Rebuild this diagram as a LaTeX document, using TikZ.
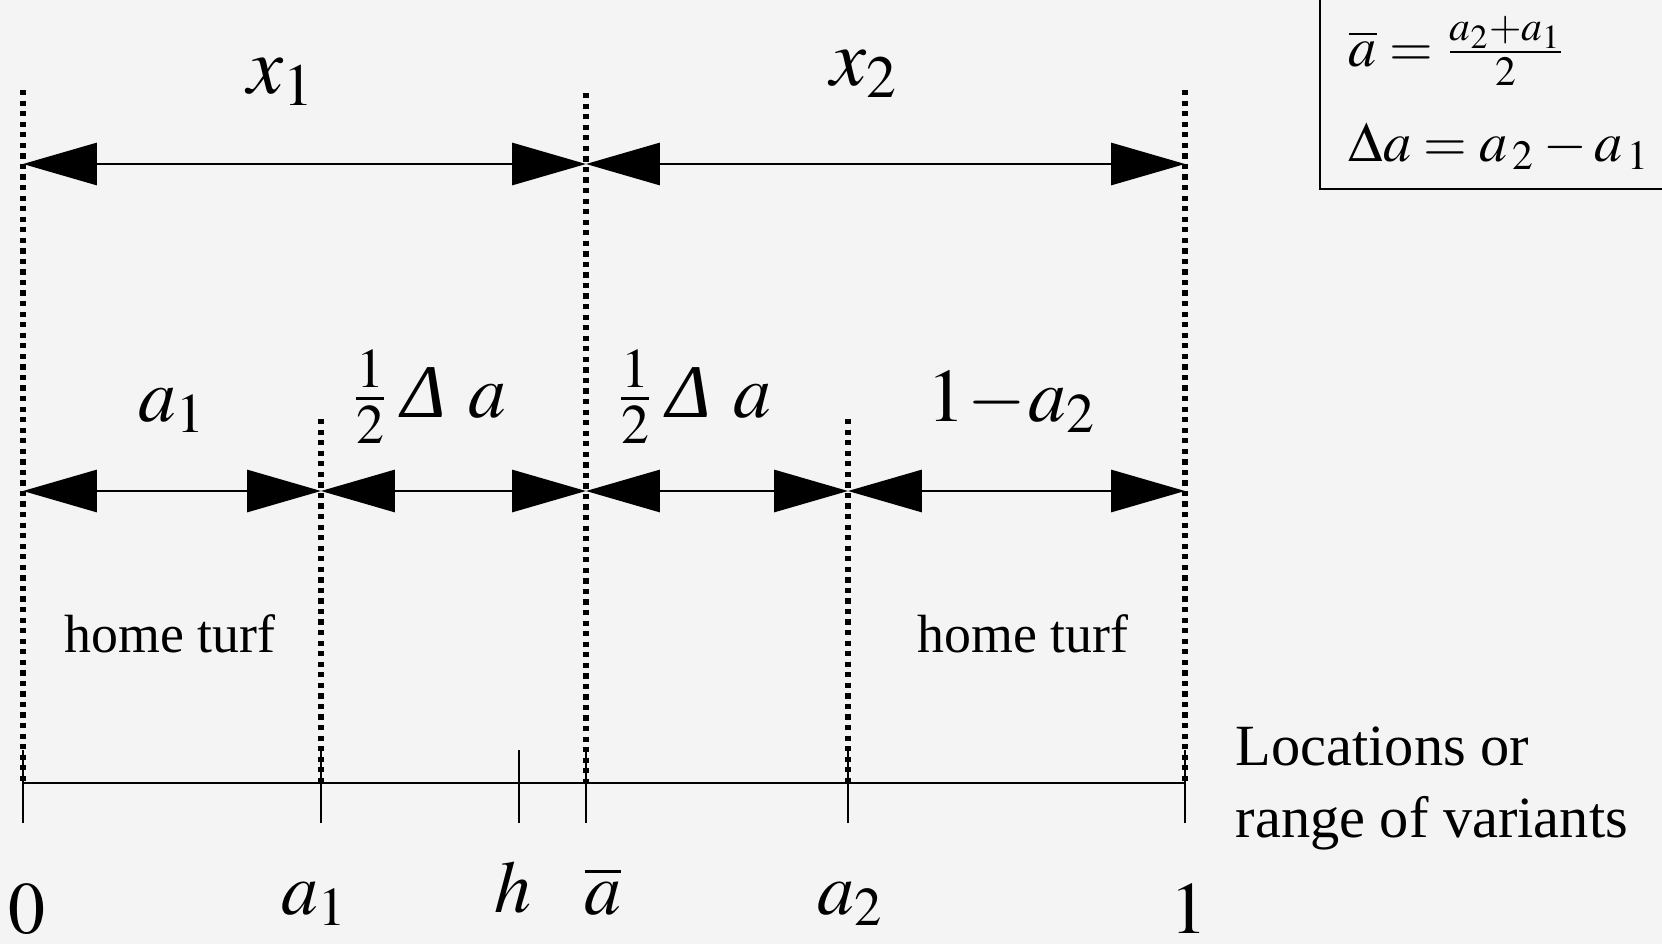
\documentclass[tikz,border=0pt]{standalone}
\usepackage{mathptmx}
\usepackage{fontspec}
\setmainfont{Liberation Serif}
\usepackage{tikz}
\usetikzlibrary{arrows.meta}
\definecolor{bgG}{HTML}{F4F4F4}

\begin{document}
\begin{tikzpicture}[
  x=0.01cm, y=0.01cm,
  dim/.style={line width=0.6pt, {Triangle[length=21pt,width=12pt]}-{Triangle[length=21pt,width=12pt]}},
  guide/.style={line width=1.7pt, dash pattern=on 1.5pt off 1.5pt},
  tickmark/.style={line width=0.5pt},
  axisline/.style={line width=0.8pt},
  toplbl/.style={anchor=base, inner sep=0pt, font=\fontsize{23}{28}\selectfont},
  midlbl/.style={anchor=base, inner sep=0pt, font=\fontsize{21.5}{26}\selectfont},
  botlbl/.style={anchor=base, inner sep=0pt, font=\fontsize{21}{25}\selectfont},
  txt/.style={anchor=base, inner sep=0pt, font=\fontsize{16.6}{20}\selectfont},
  formula/.style={anchor=base west, inner sep=0pt, font=\fontsize{16}{20}\selectfont}
]

\fill[bgG] (0,0) rectangle (1662,944);
\useasboundingbox (0,0) rectangle (1662,944);

% points on the axis
\coordinate (o) at (23,161);
\coordinate (pa1) at (321,161);
\coordinate (ph) at (519,161);
\coordinate (pab) at (586,161);
\coordinate (pa2) at (848,161);
\coordinate (pone) at (1185,161);

% tops of the guides
\coordinate (g0) at (23,854);
\coordinate (ga1) at (321,525);
\coordinate (gab) at (586,851);
\coordinate (ga2) at (848,525);
\coordinate (gone) at (1185,854);

% arrow ends
\coordinate (u0) at (23,780);
\coordinate (uab) at (586,780);
\coordinate (u1) at (1185,780);
\coordinate (m0) at (23,453);
\coordinate (ma1) at (321,453);
\coordinate (mab) at (586,453);
\coordinate (ma2) at (848,453);
\coordinate (m1) at (1185,453);

% guides
\foreach \g/\p in {g0/o, ga1/pa1, gab/pab, ga2/pa2, gone/pone}
  \draw[guide] (\g) -- (\p);

% axis and ticks
\draw[axisline] (o) -- (pone);
\foreach \p in {o, pa1, ph, pab, pa2, pone}
  \draw[tickmark] (\p) ++(0,-40) -- ++(0,73);

% dimension arrows
\draw[dim] (u0) -- (uab);
\draw[dim] (uab) -- (u1);
\draw[dim] (m0) -- (ma1);
\draw[dim] (ma1) -- (mab);
\draw[dim] (mab) -- (ma2);
\draw[dim] (ma2) -- (m1);

% labels
\node[toplbl] (lx1) at (281,851) {$x_1$};
\node[toplbl] (lx2) at (864,859) {$x_2$};
\node[midlbl] (la1) at (172,523) {$a_1$};
\node[midlbl] (lha) at (429,527) {$\frac{1}{2}$\,{\itshape Δ}\hspace{0.3em}$a$};
\node[midlbl] (lhb) at (694,527) {$\frac{1}{2}$\,{\itshape Δ}\hspace{0.3em}$a$};
\node[midlbl] (lra) at (1012,523) {$1\!-\!a_2$};
\node[txt, font=\fontsize{15.3}{18}\selectfont] (turf1) at (170,292) {home turf};
\node[txt, font=\fontsize{15.3}{18}\selectfont] (turf2) at (1023,292) {home turf};

\node[botlbl] (b0) at (27,11) {$0$};
\node[botlbl] (ba1) at (315,30) {$a_1$};
\node[botlbl] (bh) at (513,32) {$h$};
\node[botlbl] (bab) at (603,30) {$\overline{a}$};
\node[botlbl] (ba2) at (851,30) {$a_2$};
\node[botlbl] (b1) at (1189,11) {$1$};

\node[txt, anchor=base west] (loc1) at (1235,179) {Locations or};
\node[txt, anchor=base west] (loc2) at (1235,107) {range of variants};

% legend box
\draw[line width=0.6pt] (1320,944) -- (1320,755) -- (1662,755);
\node[formula] (fabar) at (1348,878) {$\overline{a}=\frac{a_2+a_1}{2}$};
\node[formula] (fdelta) at (1348,783) {$\Delta a = a_{\,2} - a_{\,1}$};

\end{tikzpicture}
\end{document}
